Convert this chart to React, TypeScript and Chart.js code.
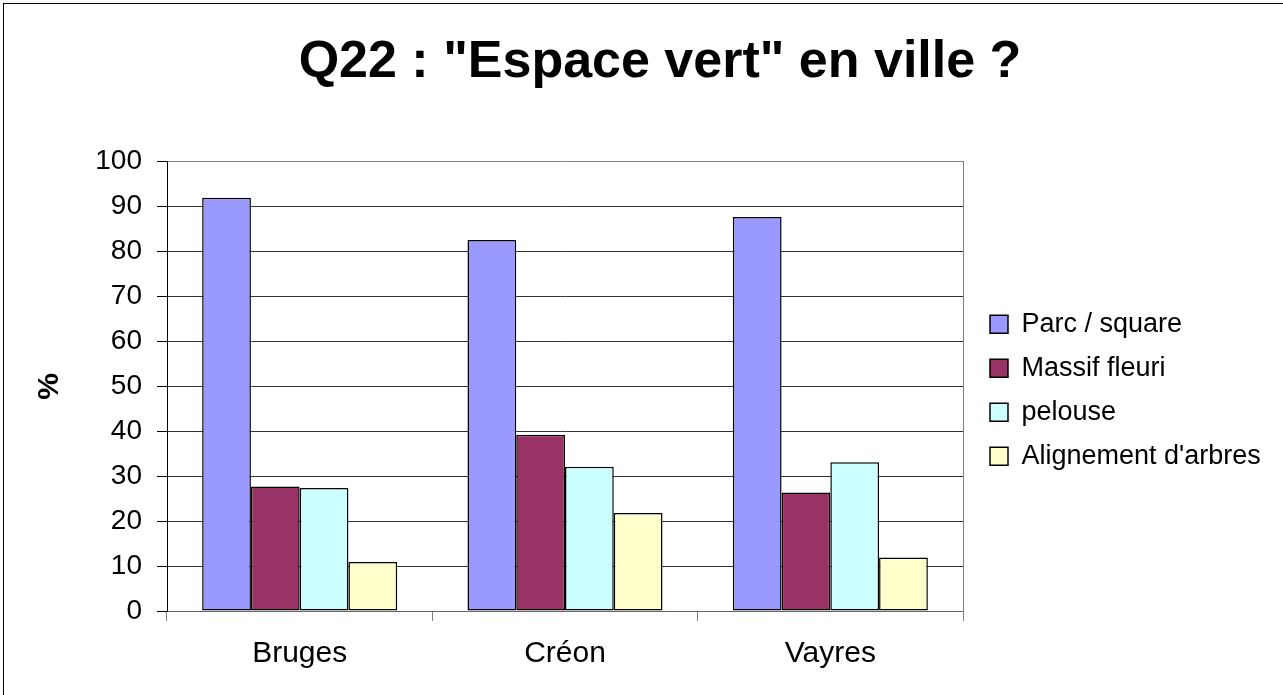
import React, { useEffect, useRef } from "react";
import { Chart, registerables } from "chart.js";

Chart.register(...registerables);

const titleText = 'Q22 : "Espace vert" en ville ?';
const yAxisTitle = "%";
const categories = ["Bruges", "Créon", "Vayres"];
const seriesNames = ["Parc / square", "Massif fleuri", "pelouse", "Alignement d'arbres"];
const parcSquare = [92, 82.6, 87.7];
const massifFleuri = [27.7, 39.2, 26.4];
const pelouse = [27.4, 32.1, 33.1];
const alignementArbres = [10.9, 21.8, 11.9];
const seriesColors = ["#9999FF", "#993366", "#CCFFFF", "#FFFFCC"];
const yMin = 0;
const yMax = 100;
const yStep = 10;

const FONT = '"Liberation Sans", Arial, Helvetica, sans-serif';
const CANVAS_W = 1320;
const LEGEND_LEFT = 973;

export default function App() {
  const canvasRef = useRef<HTMLCanvasElement | null>(null);

  useEffect(() => {
    const canvas = canvasRef.current;
    if (!canvas) return;
    Chart.defaults.font.family = FONT;
    Chart.defaults.color = "#000";
    const values = [parcSquare, massifFleuri, pelouse, alignementArbres];
    const chart = new Chart(canvas, {
      type: "bar",
      data: {
        labels: categories,
        datasets: seriesNames.map((name, i) => ({
          label: name,
          data: values[i],
          backgroundColor: seriesColors[i],
          borderColor: "#000",
          borderWidth: 1.5,
          borderSkipped: false,
          categoryPercentage: 0.735,
          barPercentage: 1,
        })),
      },
      options: {
        responsive: false,
        animation: false,
        devicePixelRatio: 1,
        layout: { padding: { top: 31, left: 0, right: 0, bottom: 23 } },
        plugins: {
          title: {
            display: true,
            text: titleText,
            color: "#000",
            font: { size: 52, weight: "bold", family: FONT, lineHeight: 1.2 },
            padding: { top: 0, bottom: 68.3 },
          },
          legend: {
            display: true,
            position: "right",
            fullSize: false,
            align: "center",
            maxWidth: 420,
            title: { display: true, text: " ", font: { size: 8, lineHeight: 1 }, padding: 0 },
            labels: {
              boxWidth: 18,
              boxHeight: 18,
              padding: 17,
              color: "#000",
              font: { size: 27, family: FONT },
            },
          },
          tooltip: { enabled: false },
        },
        scales: {
          x: {
            position: "bottom",
            grid: {
              display: true,
              drawOnChartArea: false,
              drawTicks: true,
              tickLength: 10,
              color: "#808080",
              offset: true,
            },
            border: { display: true, color: "#666", width: 1 },
            ticks: { padding: 15, color: "#000", font: { size: 30, family: FONT, lineHeight: 1.2 } },
            afterFit: (s: any) => {
              s.height = 61;
            },
          },
          y: {
            position: "left",
            min: yMin,
            max: yMax,
            ticks: { stepSize: yStep, padding: 15, color: "#000", font: { size: 28, family: FONT } },
            grid: {
              display: true,
              drawTicks: true,
              tickLength: 10,
              color: (ctx: any) =>
                ctx.tick && ctx.tick.value === yMax ? "#808080" : ctx.tick && ctx.tick.value === yMin ? "#666" : "#333",
              tickColor: "#000",
            },
            border: { display: true, color: "#000", width: 1 },
            title: {
              display: true,
              text: yAxisTitle,
              color: "#000",
              font: { size: 30, weight: "bold", family: FONT, lineHeight: 1.2 },
              padding: { top: 32, bottom: 0 },
            },
            afterFit: (s: any) => {
              s.width = 167;
            },
          },
          spacer: {
            type: "linear",
            position: "right",
            weight: 0,
            display: true,
            grid: { display: false, drawTicks: false },
            ticks: { display: false },
            border: { display: true, color: "#808080", width: 1 },
            afterFit: (s: any) => {
              s.width = 10;
            },
          },
          filler: {
            type: "linear",
            position: "right",
            weight: 2000,
            display: true,
            grid: { display: false, drawTicks: false },
            ticks: { display: false },
            border: { display: false },
            afterFit: (s: any) => {
              const lw = s.chart && s.chart.legend ? s.chart.legend.width : 290;
              s.width = Math.max(0, CANVAS_W - LEGEND_LEFT - lw);
            },
          },
        },
      } as any,
    });
    return () => chart.destroy();
  }, []);

  return (
    <div style={{ position: "fixed", left: 0, top: 0, right: 0, bottom: 0, overflow: "hidden", background: "#fff" }}>
      <canvas
        ref={canvasRef}
        width={CANVAS_W}
        height={695}
        style={{ position: "absolute", left: 0, top: 0, width: CANVAS_W, height: 695 }}
      />
      <div
        style={{
          position: "absolute",
          left: 3,
          top: 3,
          width: 1400,
          height: 800,
          border: "1px solid #000",
          pointerEvents: "none",
        }}
      />
    </div>
  );
}
